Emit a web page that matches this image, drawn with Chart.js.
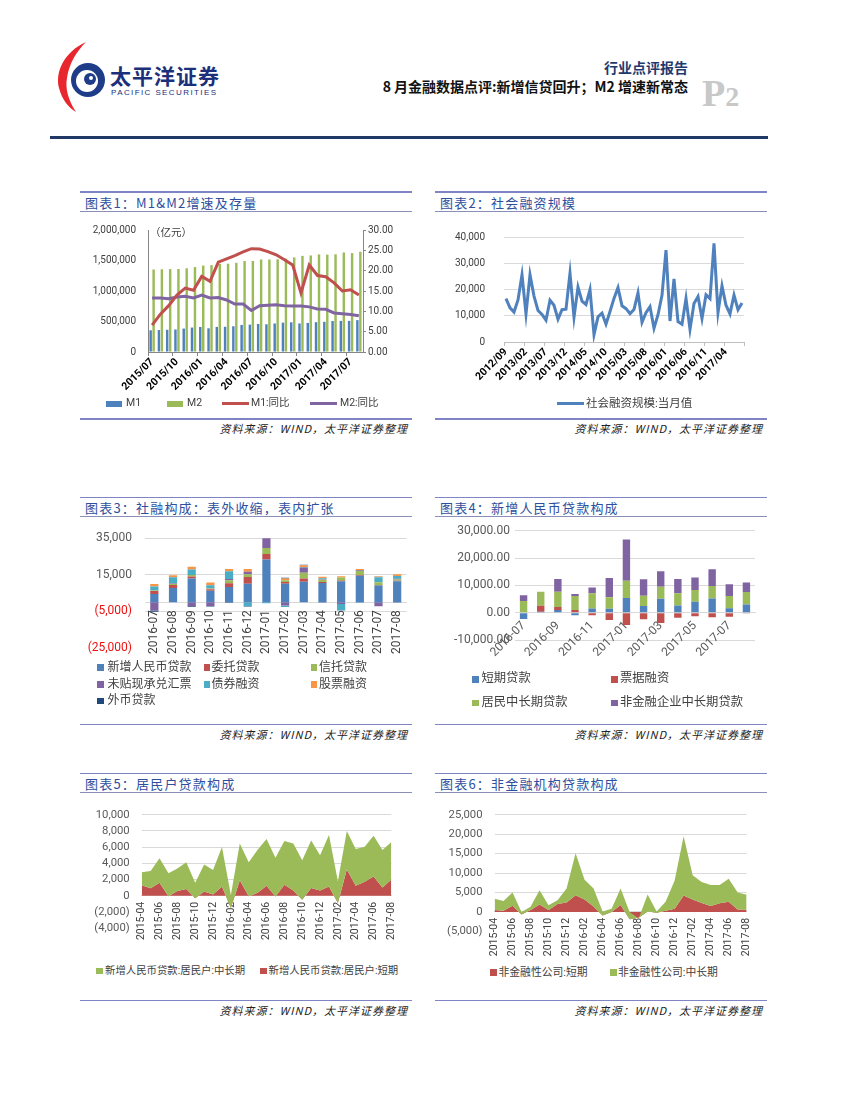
<!DOCTYPE html>
<html lang="zh-CN">
<head>
<meta charset="utf-8">
<title>8月金融数据点评</title>
<script src="https://cdn.jsdelivr.net/npm/chart.js@4.4.1/dist/chart.umd.min.js"></script>
<style>
  html, body { margin: 0; padding: 0; background: #fff; }
  #page { position: relative; width: 850px; height: 1100px; overflow: hidden; font-family: 'Noto Sans CJK SC', sans-serif; }
  .a { position: absolute; white-space: nowrap; }
  canvas { position: absolute; }
  .ptitle { font-size: 13px; color: #2e4f9e; letter-spacing: 1.2px; line-height: 16px; }
  .src { font-size: 11px; font-style: italic; color: #222; letter-spacing: 1px; line-height: 14px; }
  .lg { color: #404040; font-family: Roboto, 'Noto Sans CJK SC', sans-serif; }
</style>
</head>
<body>
<div id="page">
  <svg class="a" style="left:0;top:0" width="240" height="130">
    <path d="M86 42 C64 52 55 72 59 88 C62 100 69 108 76 112 C68 100 65 88 67 78 C69 64 76 52 86 42 Z" fill="#e8262d"/>
    <circle cx="88" cy="80" r="17" fill="#1f3c88"/>
    <circle cx="87" cy="81" r="11" fill="#fff"/>
    <circle cx="90" cy="79" r="6" fill="#1f3c88"/>
    <circle cx="91" cy="78" r="2" fill="#fff"/>
  </svg>
  <div class="a" style="left:110px;top:63px;font-size:21px;font-weight:700;color:#1b2f7a;letter-spacing:1px;line-height:24px">太平洋证券</div>
  <div class="a" style="left:111px;top:88px;font-size:8px;line-height:9px;color:#1b2f7a;letter-spacing:1.4px;font-family:'Liberation Sans'">PACIFIC SECURITIES</div>
  <div class="a" style="right:162px;top:59px;font-size:14px;line-height:17px;font-weight:700;color:#1f3a6e">行业点评报告</div>
  <div class="a" style="right:162px;top:78px;font-size:14px;line-height:17px;font-weight:700;color:#111">8 月金融数据点评:新增信贷回升；M2 增速新常态</div>
  <div class="a" style="left:702px;top:72px;font-family:'Liberation Serif';font-weight:700;color:#c8c8c8;font-size:38px;line-height:42px">P<span style="font-size:28px">2</span></div>
  <div class="a" style="left:50px;top:136px;width:718px;height:3px;background:#203864"></div>
</div>
<script>
// ── data ──
const c1Months = ['2015/07','2015/08','2015/09','2015/10','2015/11','2015/12','2016/01','2016/02','2016/03','2016/04','2016/05','2016/06','2016/07','2016/08','2016/09','2016/10','2016/11','2016/12','2017/01','2017/02','2017/03','2017/04','2017/05','2017/06','2017/07','2017/08'];
const m1Stock = [356100, 359700, 364400, 369100, 384100, 400900, 410400, 388500, 411600, 413500, 422300, 443600, 448600, 460100, 454300, 467700, 480900, 486600, 467900, 476900, 488800, 495200, 507600, 510300, 510200, 522900];
const m2Stock = [1353200, 1356500, 1359800, 1361000, 1372100, 1392300, 1416300, 1424600, 1446200, 1447700, 1461800, 1490500, 1492100, 1516400, 1516400, 1519500, 1531000, 1550100, 1575900, 1582900, 1599600, 1596300, 1601400, 1631300, 1621300, 1643400];
const m1Yoy = [6.6, 9.3, 11.4, 14.0, 15.7, 15.2, 18.6, 17.4, 22.1, 22.9, 23.7, 24.6, 25.4, 25.3, 24.7, 23.9, 22.7, 21.4, 14.5, 21.4, 18.8, 18.5, 17.0, 15.0, 15.3, 14.0];
const m2Yoy = [13.3, 13.3, 13.1, 13.5, 13.7, 13.3, 14.0, 13.3, 13.4, 12.8, 11.8, 11.8, 10.2, 11.4, 11.5, 11.6, 11.4, 11.3, 11.3, 11.1, 10.6, 10.5, 9.6, 9.4, 9.2, 8.9];

const c2Months = ['2012/09','2012/10','2012/11','2012/12',
  '2013/01','2013/02','2013/03','2013/04','2013/05','2013/06','2013/07','2013/08','2013/09','2013/10','2013/11','2013/12',
  '2014/01','2014/02','2014/03','2014/04','2014/05','2014/06','2014/07','2014/08','2014/09','2014/10','2014/11','2014/12',
  '2015/01','2015/02','2015/03','2015/04','2015/05','2015/06','2015/07','2015/08','2015/09','2015/10','2015/11','2015/12',
  '2016/01','2016/02','2016/03','2016/04','2016/05','2016/06','2016/07','2016/08','2016/09','2016/10','2016/11','2016/12',
  '2017/01','2017/02','2017/03','2017/04','2017/05','2017/06','2017/07','2017/08'];
const afre = [16500, 13000, 11400, 16000, 25600, 10700, 25600, 17500, 12000, 10500, 8300, 15900, 14000, 8700, 12300, 12500,
  26200, 9400, 20900, 15600, 14300, 20000, 2800, 9600, 11000, 6800, 11600, 16600,
  20700, 13800, 12700, 10800, 12400, 18700, 7500, 11200, 13500, 5200, 10400, 17800,
  35000, 8000, 24000, 7800, 6800, 16600, 4800, 14700, 17300, 8900, 18000, 16500,
  37600, 11200, 21400, 14000, 10700, 17900, 12300, 14900];

const c3Months = ['2016-07','2016-08','2016-09','2016-10','2016-11','2016-12','2017-01','2017-02','2017-03','2017-04','2017-05','2017-06','2017-07','2017-08'];
const c3Loans = [4400, 7800, 13000, 6300, 8300, 10000, 23300, 10000, 11200, 10500, 11400, 14500, 9100, 11400];
const c3Entrusted = [1700, 1600, 1100, 800, 2100, 3800, 3000, 1000, 1800, 500, 400, 300, 300, 300];
const c3Trust = [300, 500, 800, 300, 1600, 1500, 3300, 1000, 3100, 1200, 1700, 2300, 1500, 700];
const c3Bills = [-4600, 300, -2300, -2100, 600, 1300, 6300, -1900, 2800, 300, -1000, 300, -2300, 400];
const c3Bonds = [2200, 3400, 3000, 1800, 4300, -2100, -600, -800, 300, 600, -3500, -300, 2700, 1500];
const c3Equity = [1300, 1100, 1500, 1500, 1200, 1500, 0, 1000, 1000, 800, 700, 700, 500, 900];
const c3Foreign = [-600, 0, -300, -300, -400, -300, 0, 400, 300, -200, -100, -100, 100, -200];

const c4Short = [-2300, 300, 1000, -900, 1500, 1400, 5400, 2400, 5100, 2600, 4000, 5200, 1600, 3000];
const c4Bill = [0, 2200, 1100, 1000, -900, -2700, -4500, -2400, -3800, -1900, -1300, -1700, -1500, -300];
const c4Household = [4300, 5200, 5600, 5100, 5600, 4200, 6300, 3800, 4400, 4500, 4300, 4600, 4500, 4600];
const c4Corporate = [2100, 0, 4600, 700, 2100, 7100, 15100, 6000, 5700, 5200, 4600, 6100, 4300, 3400];

const c5Months = ['2015-04','2015-05','2015-06','2015-07','2015-08','2015-09','2015-10','2015-11','2015-12',
  '2016-01','2016-02','2016-03','2016-04','2016-05','2016-06','2016-07','2016-08','2016-09','2016-10','2016-11','2016-12',
  '2017-01','2017-02','2017-03','2017-04','2017-05','2017-06','2017-07','2017-08'];
const c5Short = [1300, 930, 1620, -50, 580, 850, -300, 540, 150, 1160, -1500, 1930, -50, 390, 1240, -100, 1350, 660, -500, 970, 660, 1160, -900, 3240, 1240, 1740, 2390, 1040, 2000];
const c5MidLong = [1600, 2120, 3010, 2830, 2780, 3280, 1920, 3320, 3020, 4860, 1600, 4520, 4180, 5280, 5780, 4810, 5400, 5790, 4900, 5860, 4360, 6330, 2700, 4750, 4550, 4320, 5020, 4600, 4640];

const c6Short = [500, 300, 1600, -700, 500, 1900, 500, 2000, 2400, 4300, 3200, 1400, -900, 0, 1800, -1900, -1500, 100, -200, 300, 800, 4200, 3200, 2300, 1500, 2200, 2600, 600, 600];
const c6MidLong = [2900, 2500, 3400, 700, 800, 3700, 1200, 1000, 3600, 10800, 5100, 4600, 1000, 800, 4200, 1900, -200, 4400, 300, 2300, 7300, 15300, 6200, 5400, 5400, 4700, 5900, 4400, 3800];

// ── colours ──
const BLUE = '#4f81bd', RED = '#c0504d', GREEN = '#9bbb59', PURPLE = '#8064a2',
      AQUA = '#4bacc6', ORANGE = '#f79646', NAVY = '#1f497d';
const AXIS = '#868686', GRID = '#d9d9d9';

const fmt = v => Math.round(v).toLocaleString('en-US');
const paren = v => v < 0 ? '(' + fmt(-v) + ')' : fmt(v);

Chart.defaults.font.family = "Roboto, 'Noto Sans CJK SC', sans-serif";
Chart.defaults.color = '#595959';
Chart.defaults.animation = false;
Chart.defaults.responsive = false;
Chart.defaults.plugins.legend.display = false;
Chart.defaults.plugins.tooltip.enabled = false;
Chart.defaults.elements.point.radius = 0;
Chart.defaults.elements.line.tension = 0;

// ── page chrome ──
const page = document.getElementById('page');
function el(cls, css, text) {
    const d = document.createElement('div');
    d.className = 'a ' + cls;
    d.style.cssText = css;
    if (text) d.textContent = text;
    page.appendChild(d);
    return d;
}
function canvasAt(left, top, w, h) {
    const c = document.createElement('canvas');
    c.width = w; c.height = h;
    c.style.left = left + 'px'; c.style.top = top + 'px';
    c.style.width = w + 'px'; c.style.height = h + 'px';
    page.appendChild(c);
    return c;
}
function legendItem(x, yc, kind, color, text, size, textX) {
    if (kind === 'line') el('', `left:${x}px;top:${yc - 1.5}px;width:27px;height:3px;background:${color}`);
    else if (kind === 'wide') el('', `left:${x}px;top:${yc - 3}px;width:16px;height:6px;background:${color}`);
    else el('', `left:${x}px;top:${yc - 3.2}px;width:6.5px;height:6.5px;background:${color}`);
    el('lg', `left:${textX}px;top:${yc - size * 0.72}px;font-size:${size}px;line-height:${size * 1.4}px`, text);
}

const panels = [
    { x: 80, top: 191, title: '图表1：M1&M2增速及存量' },
    { x: 435, top: 191, title: '图表2：社会融资规模' },
    { x: 80, top: 496.5, title: '图表3：社融构成：表外收缩，表内扩张' },
    { x: 435, top: 496.5, title: '图表4：新增人民币贷款构成' },
    { x: 80, top: 772.5, title: '图表5：居民户贷款构成' },
    { x: 435, top: 772.5, title: '图表6：非金融机构贷款构成' }
];
panels.forEach(p => {
    el('', `left:${p.x}px;top:${p.top}px;width:332px;height:1.5px;background:#7f84c4`);
    el('ptitle', `left:${p.x + 5}px;top:${p.top + 3.5}px`, p.title);
    el('', `left:${p.x}px;top:${p.top + 19.5}px;width:332px;height:1px;background:#8a8fb8`);
    el('', `left:${p.x}px;top:${p.top + 227}px;width:332px;height:1.5px;background:#7f84c4`);
    el('src', `right:${850 - (p.x + 328)}px;top:${p.top + 230}px`, '资料来源：WIND，太平洋证券整理');
});

// ── 图表1 ──
new Chart(canvasAt(80, 212, 330, 188), {
    type: 'bar',
    data: {
        labels: c1Months,
        datasets: [
            { type: 'line', label: 'M1:同比', data: m1Yoy, yAxisID: 'y1', borderColor: RED, borderWidth: 3, order: 0 },
            { type: 'line', label: 'M2:同比', data: m2Yoy, yAxisID: 'y1', borderColor: PURPLE, borderWidth: 3, order: 0 },
            { label: 'M1', data: m1Stock, yAxisID: 'y', backgroundColor: BLUE, order: 1, categoryPercentage: 0.72, barPercentage: 0.82 },
            { label: 'M2', data: m2Stock, yAxisID: 'y', backgroundColor: GREEN, order: 1, categoryPercentage: 0.72, barPercentage: 0.82 }
        ]
    },
    options: {
        layout: { padding: { top: 14, left: 0, right: 0, bottom: 0 } },
        scales: {
            x: {
                grid: { offset: true, drawOnChartArea: false, tickLength: 4, color: ctx => ctx.index % 3 === 0 ? AXIS : 'transparent' },
                border: { color: AXIS },
                ticks: { autoSkip: false, minRotation: 45, maxRotation: 45, padding: 0, color: '#000',
                         font: { size: 10.5, weight: 'bold' }, callback: (v, i) => i % 3 === 0 ? c1Months[i] : '' },
                afterFit: s => { s.height = 48; }
            },
            y: {
                position: 'left', min: 0, max: 2000000,
                ticks: { stepSize: 500000, padding: 12, color: '#404040', font: { size: 10 }, callback: v => fmt(v) },
                grid: { drawOnChartArea: false, drawTicks: false },
                border: { color: AXIS },
                afterFit: s => { s.width = 68; }
            },
            y1: {
                position: 'right', min: 0, max: 30,
                ticks: { stepSize: 5, padding: 2, color: '#404040', font: { size: 10 }, callback: v => v.toFixed(2) },
                grid: { drawOnChartArea: false, tickLength: 3, color: AXIS },
                border: { color: AXIS },
                afterFit: s => { s.width = 47; }
            }
        }
    }
});
el('lg', 'left:150px;top:226px;font-size:10.5px;line-height:14px', '（亿元）');
legendItem(106, 403.5, 'wide', BLUE, 'M1', 10.5, 126);
legendItem(167, 403.5, 'wide', GREEN, 'M2', 10.5, 187);
legendItem(222, 403.5, 'line', RED, 'M1:同比', 10.5, 251);
legendItem(310, 403.5, 'line', PURPLE, 'M2:同比', 10.5, 340);

// ── 图表2 ──
new Chart(canvasAt(435, 212, 335, 188), {
    type: 'line',
    data: {
        labels: c2Months,
        datasets: [{ label: '社会融资规模:当月值', data: afre, borderColor: BLUE, borderWidth: 3 }]
    },
    options: {
        layout: { padding: { top: 16, right: 26, left: 0, bottom: 0 } },
        scales: {
            x: {
                offset: true,
                grid: { offset: true, drawOnChartArea: false, tickLength: 4,
                        color: ctx => (ctx.type === 'scale' || ctx.index % 5 === 0) ? '#bfbfbf' : 'transparent' },
                border: { color: '#bfbfbf' },
                ticks: { autoSkip: false, minRotation: 45, maxRotation: 45, padding: 0, color: '#000',
                         font: { size: 10.5, weight: 'bold' }, callback: (v, i) => i % 5 === 0 ? c2Months[i] : '' },
                afterFit: s => { s.height = 58; }
            },
            y: {
                min: 0, max: 40000,
                ticks: { stepSize: 10000, padding: 19, color: '#404040', font: { size: 10 }, callback: v => fmt(v) },
                grid: { color: GRID, drawTicks: false },
                border: { display: false },
                afterFit: s => { s.width = 69; }
            }
        }
    }
});
legendItem(557, 403.5, 'line', BLUE, '社会融资规模:当月值', 11.5, 586);

// ── 图表3 ──
const c3Names = ['新增人民币贷款', '委托贷款', '信托贷款', '未贴现承兑汇票', '债券融资', '股票融资', '外币贷款'];
const c3Colors = [BLUE, RED, GREEN, PURPLE, AQUA, ORANGE, NAVY];
const c3Data = [c3Loans, c3Entrusted, c3Trust, c3Bills, c3Bonds, c3Equity, c3Foreign];
new Chart(canvasAt(80, 518, 340, 150), {
    type: 'bar',
    data: {
        labels: c3Months,
        datasets: c3Names.map((n, i) => ({ label: n, data: c3Data[i], backgroundColor: c3Colors[i],
                                           categoryPercentage: 0.8, barPercentage: 0.55 }))
    },
    options: {
        layout: { padding: { top: 12.7, right: 12, bottom: 16, left: 0 } },
        scales: {
            x: {
                stacked: true, position: { y: 0 },
                grid: { drawOnChartArea: false, drawTicks: false },
                border: { color: GRID },
                ticks: { autoSkip: false, minRotation: 90, maxRotation: 90, padding: 8, color: '#404040', font: { size: 12 } }
            },
            y: {
                stacked: true, min: -25000, max: 35000,
                ticks: { stepSize: 20000, padding: 13, font: { size: 12 },
                         color: ctx => ctx.tick.value < 0 ? '#ee1111' : '#595959', callback: v => paren(v) },
                grid: { drawTicks: false, color: ctx => ctx.tick && ctx.tick.value === -25000 ? 'transparent' : GRID },
                border: { display: false },
                afterFit: s => { s.width = 65; }
            }
        }
    }
});
const c3Cols = [[97, 107.5], [203.5, 211.5], [310.5, 319]];
const c3Rows = [667.3, 684.3, 701];
c3Names.forEach((n, i) => {
    const col = c3Cols[i % 3], row = c3Rows[Math.floor(i / 3)];
    legendItem(col[0], row, 'box', c3Colors[i], n, 12, col[1]);
});

// ── 图表4 ──
const c4Names = ['短期贷款', '票据融资', '居民中长期贷款', '非金融企业中长期贷款'];
const c4Colors = [BLUE, RED, GREEN, PURPLE];
const c4Data = [c4Short, c4Bill, c4Household, c4Corporate];
new Chart(canvasAt(435, 518, 335, 140), {
    type: 'bar',
    data: {
        labels: c3Months,
        datasets: c4Names.map((n, i) => ({ label: n, data: c4Data[i], backgroundColor: c4Colors[i],
                                           categoryPercentage: 0.8, barPercentage: 0.54 }))
    },
    options: {
        layout: { padding: { top: 12.7, right: 15, bottom: 18, left: 0 } },
        scales: {
            x: {
                stacked: true, position: { y: 0 },
                grid: { drawOnChartArea: false, drawTicks: false },
                border: { color: GRID },
                ticks: { autoSkip: false, minRotation: 45, maxRotation: 45, padding: 6, color: '#595959',
                         font: { size: 12 }, callback: (v, i) => i % 2 === 0 ? c3Months[i] : '' }
            },
            y: {
                stacked: true, min: -10000, max: 30000,
                ticks: { stepSize: 10000, padding: 5, color: '#595959', font: { size: 12 },
                         callback: v => v.toLocaleString('en-US', { minimumFractionDigits: 2, maximumFractionDigits: 2 }) },
                grid: { drawTicks: false, color: GRID },
                border: { display: false },
                afterFit: s => { s.width = 80; }
            }
        }
    }
});
const c4Cols = [[472, 481.5], [611, 620]];
const c4Rows = [679.3, 702.7];
c4Names.forEach((n, i) => {
    const col = c4Cols[i % 2], row = c4Rows[Math.floor(i / 2)];
    legendItem(col[0], row, 'box', c4Colors[i], n, 12.3, col[1]);
});

// ── 图表5 / 图表6 : stacked areas, short-term at the bottom ──
function areaChart(canvas, labels, shortData, midData, shortName, midName, yMin, yMax, step, pad, yWidth, labelSize) {
    const total = shortData.map((s, i) => s + midData[i]);
    return new Chart(canvas, {
        type: 'line',
        data: {
            labels: labels,
            datasets: [
                { label: midName, data: total, fill: 1, backgroundColor: GREEN, borderColor: 'transparent', borderWidth: 0 },
                { label: shortName, data: shortData, fill: 'origin', backgroundColor: RED, borderColor: 'transparent', borderWidth: 0 }
            ]
        },
        options: {
            layout: { padding: pad },
            scales: {
                x: {
                    position: { y: 0 },
                    grid: { drawOnChartArea: false, drawTicks: false },
                    border: { color: GRID },
                    ticks: { autoSkip: false, minRotation: 90, maxRotation: 90, padding: 6, color: '#404040',
                             font: { size: labelSize }, callback: (v, i) => i % 2 === 0 ? labels[i] : '' }
                },
                y: {
                    min: yMin, max: yMax,
                    ticks: { stepSize: step, padding: 12, color: '#595959', font: { size: 11.3 }, callback: v => paren(v) },
                    grid: { drawTicks: false, color: ctx => ctx.tick && ctx.tick.value < 0 ? 'transparent' : GRID },
                    border: { display: false },
                    afterFit: s => { s.width = yWidth; }
                }
            }
        }
    });
}
areaChart(canvasAt(80, 796, 330, 151), c5Months, c5Short, c5MidLong,
          '新增人民币贷款:居民户:短期', '新增人民币贷款:居民户:中长期',
          -4000, 10000, 2000, { top: 11.7, right: 17.3, bottom: 18.3, left: 0 }, 61.7, 10.5);
legendItem(96, 971, 'box', GREEN, '新增人民币贷款:居民户:中长期', 10.4, 105);
legendItem(260, 971, 'box', RED, '新增人民币贷款:居民户:短期', 10.4, 268.5);

areaChart(canvasAt(435, 796, 335, 164), c5Months, c6Short, c6MidLong,
          '非金融性公司:短期', '非金融性公司:中长期',
          -5000, 25000, 5000, { top: 11.7, right: 23.3, bottom: 28.7, left: 0 }, 59.5, 10.5);
legendItem(490, 972.3, 'box', RED, '非金融性公司:短期', 10.8, 498.5);
legendItem(610, 972.3, 'box', GREEN, '非金融性公司:中长期', 10.8, 618);
</script>
</body>
</html>
